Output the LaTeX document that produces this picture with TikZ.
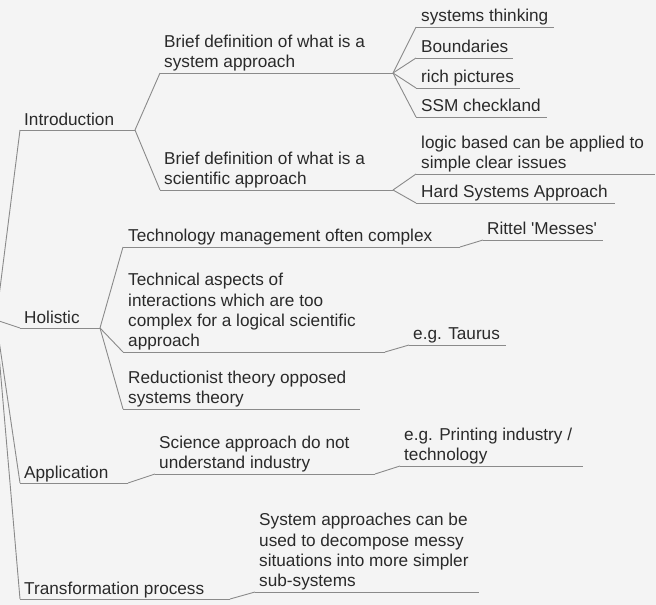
\documentclass[tikz,border=0pt]{standalone}
\usepackage{fontspec}
\setmainfont{Liberation Sans}
\definecolor{bg}{HTML}{F4F4F4}
\definecolor{txt}{HTML}{2A2A2A}
\definecolor{ln}{HTML}{8A8A8A}
\begin{document}
\begin{tikzpicture}[x=1pt,y=-1pt,
  topic/.style={anchor=south west, inner sep=0pt, text depth=0pt, align=left, text=txt, font=\fontsize{17.2}{20.4}\selectfont},
  uline/.style={draw=ln, line width=0.9pt},
  conn/.style={draw=ln, line width=0.9pt}]
\fill[bg] (0,0) rectangle (656,605);
\useasboundingbox (0,0) rectangle (656,605);
\coordinate (root) at (-4,320);
% level 1
\coordinate (introL) at (20,130); \coordinate (introR) at (135,130);
\coordinate (holL) at (20,328); \coordinate (holR) at (100,328);
\coordinate (appL) at (20,483); \coordinate (appR) at (128,483);
\coordinate (trL) at (20,599); \coordinate (trR) at (230,599);
\node[topic] (intro) at (24,126) {Introduction};
\node[topic] (hol) at (24,324) {Holistic};
\node[topic] (app) at (24,479) {Application};
\node[topic] (tr) at (24,595) {Transformation process};
% introduction children
\coordinate (sysL) at (160,73); \coordinate (sysR) at (393,73);
\coordinate (sciL) at (160,190); \coordinate (sciR) at (393,190);
\node[topic] (sys) at (164,68) {Brief definition of what is a\\system approach};
\node[topic] (sci) at (164,185) {Brief definition of what is a\\scientific approach};
\coordinate (stL) at (416,27); \coordinate (stR) at (554,27);
\coordinate (bdL) at (416,58); \coordinate (bdR) at (513,58);
\coordinate (rpL) at (416,88); \coordinate (rpR) at (520,88);
\coordinate (ssmL) at (416,117); \coordinate (ssmR) at (547,117);
\node[topic] (st) at (421,22) {systems thinking};
\node[topic] (bd) at (421,53) {Boundaries};
\node[topic] (rp) at (421,83) {rich pictures};
\node[topic] (ssm) at (421,112) {SSM checkland};
\coordinate (lbL) at (416,174); \coordinate (lbR) at (655,174);
\coordinate (hsaL) at (416,203); \coordinate (hsaR) at (615,203);
\node[topic] (lb) at (421,169) {logic based can be applied to\\simple clear issues};
\node[topic] (hsa) at (421,198) {Hard Systems Approach};
% holistic children
\coordinate (tmL) at (123,247); \coordinate (tmR) at (460,247);
\coordinate (taL) at (123,352); \coordinate (taR) at (385,352);
\coordinate (rtL) at (123,409); \coordinate (rtR) at (360,409);
\node[topic] (tm) at (128,242) {Technology management often complex};
\node[topic] (ta) at (128,347) {Technical aspects of\\interactions which are too\\complex for a logical scientific\\approach};
\node[topic] (rt) at (128,404) {Reductionist theory opposed\\systems theory};
\coordinate (rmL) at (483,240); \coordinate (rmR) at (603,240);
\coordinate (tauL) at (409,345); \coordinate (tauR) at (506,345);
\node[topic] (rm) at (487,235) {Rittel \textquotesingle Messes\textquotesingle};
\node[topic] (tau) at (413,340) {e.g. Taurus};
% application children
\coordinate (saL) at (155,474); \coordinate (saR) at (375,474);
\coordinate (piL) at (400,466); \coordinate (piR) at (583,466);
\node[topic] (sa) at (159,469) {Science approach do not\\understand industry};
\node[topic] (pi) at (404,461) {e.g. Printing industry /\\technology};
% transformation children
\coordinate (sys2L) at (255,592); \coordinate (sys2R) at (479,592);
\node[topic] (sys2) at (259,587) {System approaches can be\\used to decompose messy\\situations into more simpler\\sub-systems};
% underlines
\foreach \n in {intro,hol,app,tr,sys,sci,st,bd,rp,ssm,lb,hsa,tm,ta,rt,rm,tau,sa,pi,sys2}
  \draw[uline] (\n L) -- (\n R);
% connectors
\foreach \n in {intro,hol,app,tr} \draw[conn] (root) -- (\n L);
\foreach \n in {sys,sci} \draw[conn] (introR) -- (\n L);
\foreach \n in {st,bd,rp,ssm} \draw[conn] (sysR) -- (\n L);
\foreach \n in {lb,hsa} \draw[conn] (sciR) -- (\n L);
\foreach \n in {tm,ta,rt} \draw[conn] (holR) -- (\n L);
\draw[conn] (tmR) -- (rmL);
\draw[conn] (taR) -- (tauL);
\draw[conn] (appR) -- (saL);
\draw[conn] (saR) -- (piL);
\draw[conn] (trR) -- (sys2L);
\end{tikzpicture}
\end{document}
